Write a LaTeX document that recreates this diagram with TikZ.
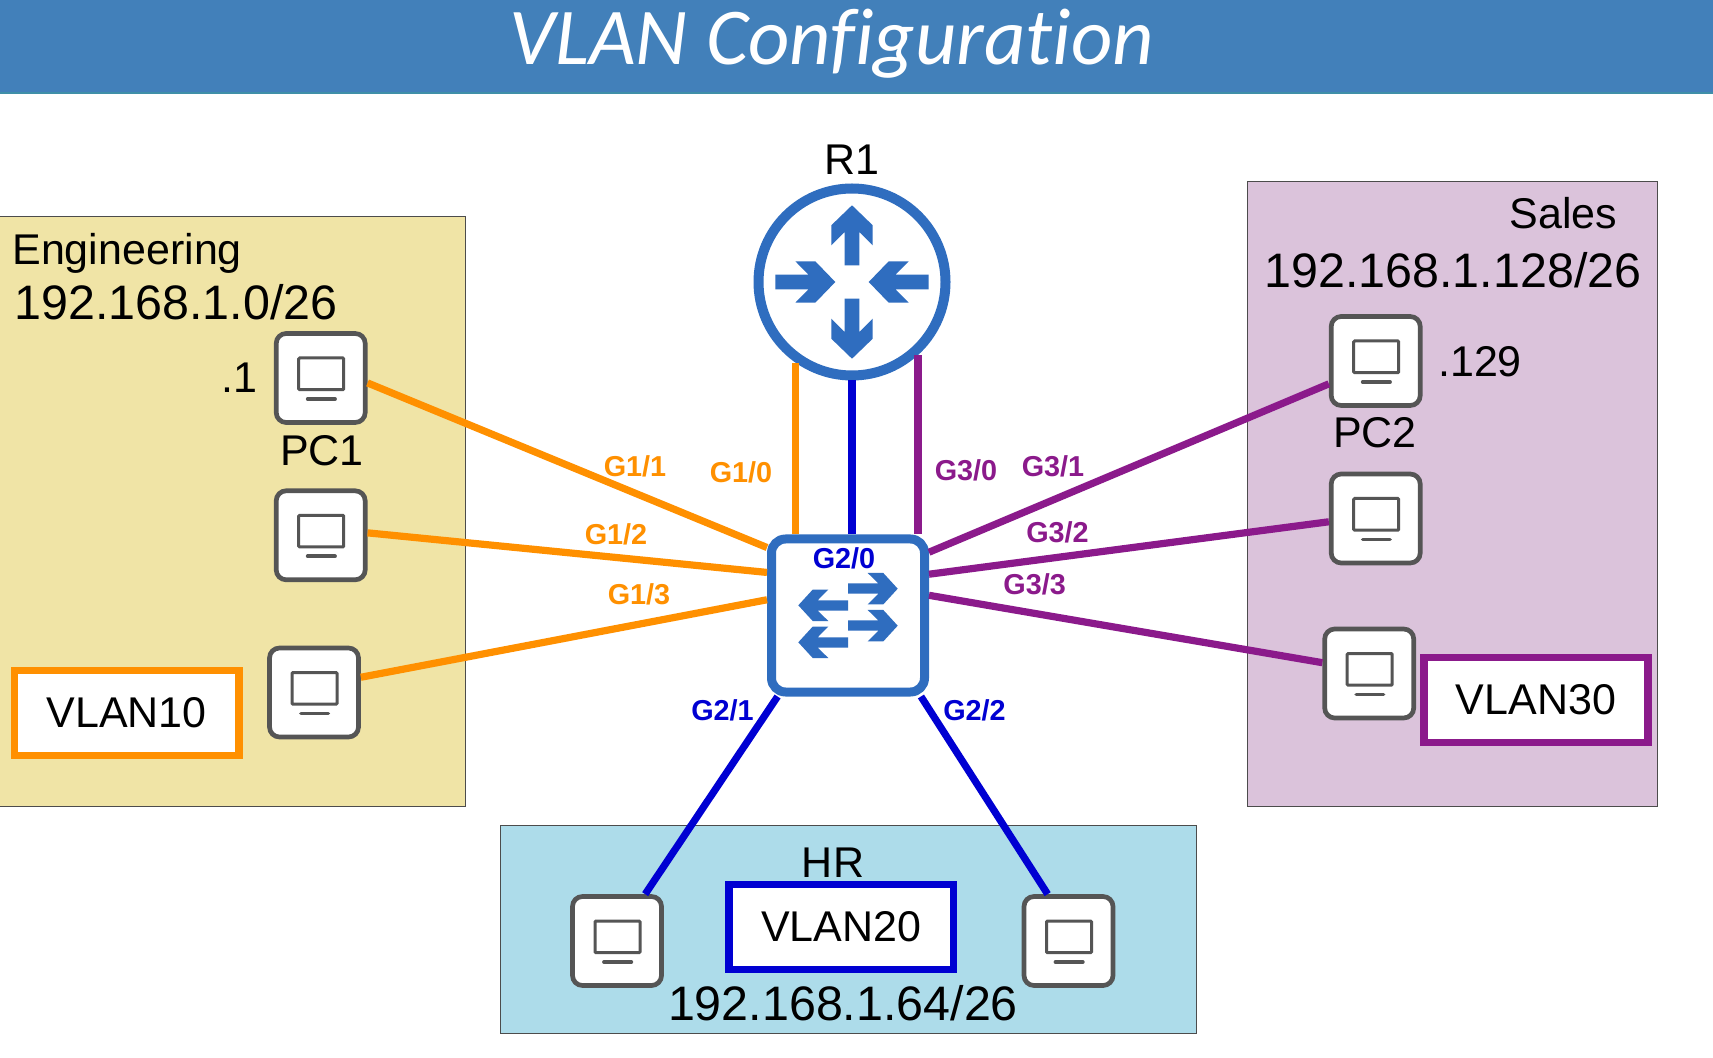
\documentclass[tikz,border=0pt]{standalone}
\usepackage{fontspec}
\setmainfont{Liberation Sans}
\newfontfamily\titlefont[Ligatures=NoCommon]{Carlito}
\definecolor{bannerblue}{HTML}{4280BA}
\definecolor{bannerline}{HTML}{3F8FA8}
\definecolor{ciscoblue}{HTML}{2F6DBF}
\definecolor{pcgrey}{HTML}{555555}
\definecolor{engfill}{HTML}{F0E4A6}
\definecolor{salesfill}{HTML}{DBC3DB}
\definecolor{hrfill}{HTML}{ADDCEA}
\definecolor{vlanorange}{HTML}{FF9000}
\definecolor{vlanblue}{HTML}{0000D2}
\definecolor{vlanpurple}{HTML}{8B1A8B}
\begin{document}
\begin{tikzpicture}[x=0.5pt,y=-0.5pt]
\tikzset{
  routerarrow/.pic={\fill [ciscoblue] (0,0) -- (-20,20.7) -- (-40,20.7) -- (-26.7,7.3) -- (-60,7.3) -- (-60,-7.3) -- (-26.7,-7.3) -- (-40,-20.7) -- (-20,-20.7) -- cycle;},
  switcharrow/.pic={\fill [ciscoblue] (0,0) -- (-14.4,15.7) -- (-30,15.7) -- (-19.4,5) -- (-49.7,5) -- (-49.7,-5.3) -- (-19.4,-5.3) -- (-30,-15.7) -- (-14.4,-15.7) -- cycle;}
}
\tikzstyle{every node}+=[inner sep=0pt]
\tikzstyle{bigtext}=[font=\fontsize{24.2}{28}\selectfont]
\tikzstyle{midtext}=[font=\fontsize{21.5}{25}\selectfont]
\tikzstyle{port}=[font=\bfseries\fontsize{14.4}{17}\selectfont]
\tikzstyle{vlanbox}=[draw,fill=white,line width=3.8pt,minimum width=112.2pt,minimum height=42.5pt,font=\fontsize{21.5}{25}\selectfont]
\tikzstyle{link}=[line width=3.6pt]
\tikzstyle{pcbox}=[draw=pcgrey,fill=white,line width=2.35pt,rounded corners=5pt,minimum size=44.5pt,
  path picture={
    \draw [pcgrey,line width=1.5pt,rounded corners=0.5pt] ([shift={(-22,-20)}]path picture bounding box.center) rectangle ([shift={(23,11.7)}]path picture bounding box.center);
    \draw [pcgrey,line width=1.9pt,line cap=round] ([shift={(-13,21)}]path picture bounding box.center) -- ([shift={(14.3,21)}]path picture bounding box.center);
  }]
\useasboundingbox (0,0) rectangle (1713,1058);
\fill [bannerblue] (0,0) rectangle (1713,93);
\draw [bannerline,line width=1pt] (0,93) -- (1713,93);
\draw [black!70,fill=engfill,line width=0.5pt] (-5,217) rectangle (465,806);
\draw [black!70,fill=salesfill,line width=0.5pt] (1247,182) rectangle (1657,806);
\draw [black!70,fill=hrfill,line width=0.5pt] (500,825) rectangle (1196,1033);
\draw (832,43.5) node (title) [text=white,font=\titlefont\itshape\fontsize{40.3}{45}\selectfont] {VLAN Configuration};
\draw (852,282) node (r1) [circle,draw=ciscoblue,fill=white,line width=5pt,minimum size=93.5pt] {};
\draw (848,615.5) node (sw) [rectangle,draw=ciscoblue,fill=white,line width=4.5pt,rounded corners=7pt,minimum size=76.5pt] {};
\draw (320.7,378) node (pca) [pcbox] {};
\draw (320.7,535.3) node (pcb) [pcbox] {};
\draw (314,692.5) node (pcc) [pcbox] {};
\draw (1375.7,361) node (pcd) [pcbox] {};
\draw (1375.7,518.5) node (pce) [pcbox] {};
\draw (1369.2,673.5) node (pcf) [pcbox] {};
\draw (617,941) node (pcg) [pcbox] {};
\draw (1068.5,941) node (pch) [pcbox] {};
\pic [rotate=90] at ([shift={(0,-76.7)}]r1.center) {routerarrow};
\pic [rotate=-90] at ([shift={(0,76.7)}]r1.center) {routerarrow};
\pic at ([shift={(-16.7,0)}]r1.center) {routerarrow};
\pic [rotate=180] at ([shift={(16.7,0)}]r1.center) {routerarrow};
\pic at ([shift={(49.7,-26.8)}]sw.center) {switcharrow};
\pic at ([shift={(49.7,10.2)}]sw.center) {switcharrow};
\pic [rotate=180] at ([shift={(-49.7,-10.2)}]sw.center) {switcharrow};
\pic [rotate=180] at ([shift={(-49.7,26.8)}]sw.center) {switcharrow};
\draw [link,vlanorange] (r1.235.7) -- (r1.235.7 |- sw.north);
\draw [link,vlanblue] (r1.south) -- (r1.south |- sw.north);
\draw [link,vlanpurple] (r1.-48.6) -- (r1.-48.6 |- sw.north);
\draw [link,vlanorange] (pca.-6) -- (sw.140.5);
\draw [link,vlanorange] (pcb.3) -- (sw.152.3);
\draw [link,vlanorange] (pcc.18) -- (sw.169.5);
\draw [link,vlanpurple] (pcd.206.6) -- (sw.38.6);
\draw [link,vlanpurple] (pce.184) -- (sw.27.5);
\draw [link,vlanpurple] (pcf.167) -- (sw.14);
\draw [link,vlanblue] (pcg.59) -- (sw.229.5);
\draw [link,vlanblue] (pch.114) -- (sw.-48);
\draw (126.7,713) node (vlan10) [vlanbox,draw=vlanorange] {VLAN10};
\draw (841.2,927) node (vlan20) [vlanbox,draw=vlanblue] {VLAN20};
\draw (1536,700) node (vlan30) [vlanbox,draw=vlanpurple] {VLAN30};
\draw (12,253) node (eng) [midtext,right] {Engineering};
\draw (14,302.5) node (engnet) [bigtext,right] {192.168.1.0/26};
\draw (239,378) node (pcaip) [midtext] {.1};
\draw (322,451) node (pcaname) [midtext] {PC1};
\draw (852,159.5) node (r1name) [midtext] {R1};
\draw (1563.5,213.5) node (sales) [midtext] {Sales};
\draw (1453,270) node (salesnet) [bigtext] {192.168.1.128/26};
\draw (1480,361.5) node (pcdip) [midtext] {.129};
\draw (1375,432.6) node (pcdname) [midtext] {PC2};
\draw (833,863) node (hr) [midtext] {HR};
\draw (843,1003) node (hrnet) [bigtext] {192.168.1.64/26};
\draw (635,466.5) node (g11) [port,vlanorange] {G1/1};
\draw (741,472) node (g10) [port,vlanorange] {G1/0};
\draw (616,534) node (g12) [port,vlanorange] {G1/2};
\draw (639,594.5) node (g13) [port,vlanorange] {G1/3};
\draw (844,558.5) node (g20) [port,vlanblue] {G2/0};
\draw (722.5,710) node (g21) [port,vlanblue] {G2/1};
\draw (974.5,710) node (g22) [port,vlanblue] {G2/2};
\draw (966,470) node (g30) [port,vlanpurple] {G3/0};
\draw (1053,466.5) node (g31) [port,vlanpurple] {G3/1};
\draw (1057.5,532) node (g32) [port,vlanpurple] {G3/2};
\draw (1034.6,584) node (g33) [port,vlanpurple] {G3/3};
\end{tikzpicture}
\end{document}
